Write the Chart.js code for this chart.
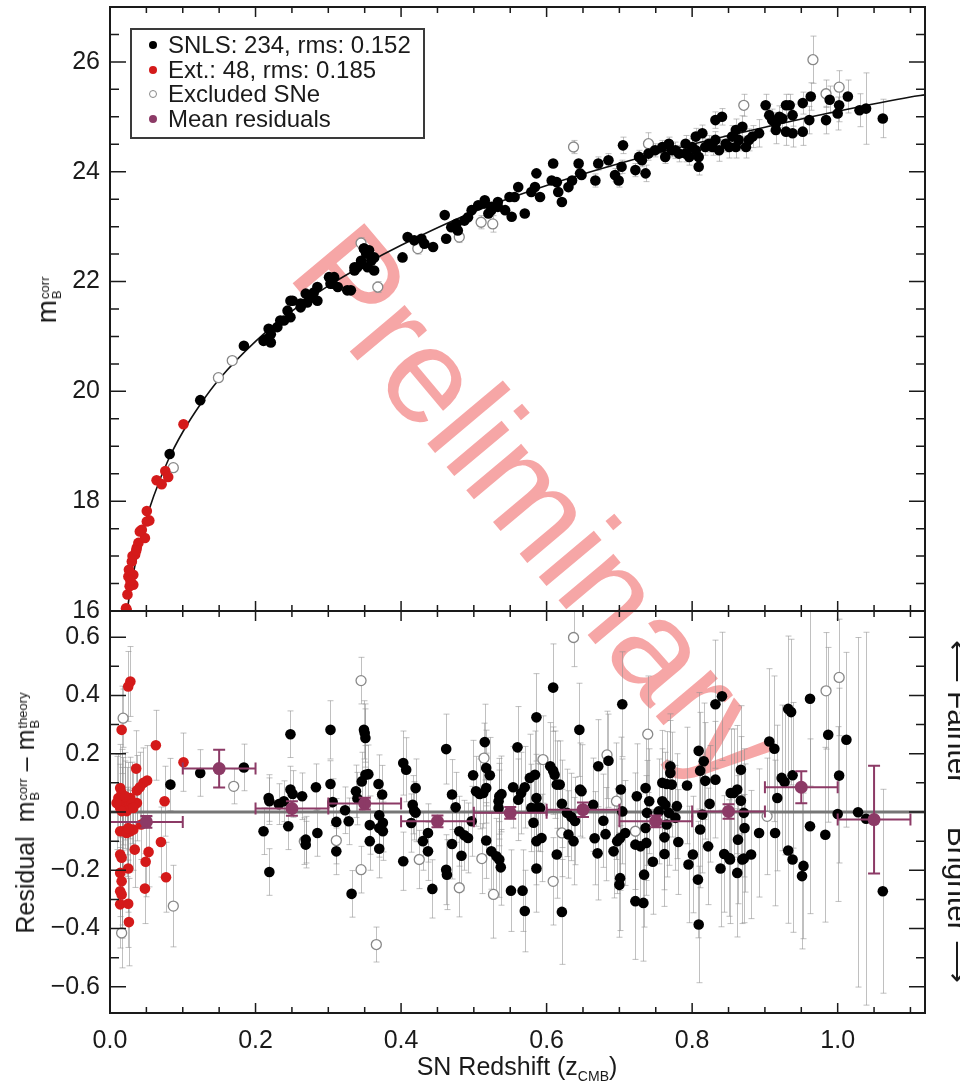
<!DOCTYPE html>
<html><head><meta charset="utf-8">
<script src="https://cdn.jsdelivr.net/npm/chart.js@4/dist/chart.umd.min.js"></script>
<style>
html,body{margin:0;padding:0;background:#fff;}
body{width:960px;height:1082px;position:relative;overflow:hidden;font-family:"Liberation Sans",Arial,Helvetica,sans-serif;color:#1a1a1a;}
canvas{position:absolute;left:0;}
#cTop{top:0;}
#cBot{top:600px;}
.abs{position:absolute;white-space:nowrap;line-height:1;}
.rotL{transform:translate(-50%,-50%) rotate(-90deg);}
.rotR{transform:translate(-50%,-50%) rotate(90deg);}
.ss{display:inline-flex;flex-direction:column;align-items:flex-start;font-size:13px;line-height:12px;vertical-align:7px;margin-left:1px;}
.lg{position:absolute;left:145px;font-size:24px;line-height:24px;white-space:nowrap;}
.dot{display:inline-block;width:8px;height:8px;border-radius:50%;margin-left:4px;margin-right:11px;vertical-align:4px;box-sizing:border-box;}
</style></head>
<body>
<div class="abs" style="left:540px;top:505px;font-size:136px;color:#f6a6a6;transform:translate(-50%,-50%) rotate(50deg);">Preliminary</div>
<canvas id="cTop" width="960" height="625" style="width:960px;height:625px"></canvas>
<canvas id="cBot" width="960" height="482" style="width:960px;height:482px"></canvas>

<div class="abs" style="left:130px;top:28px;width:291px;height:107px;border:2px solid #3a3a3a;"></div>
<div class="lg" style="top:33px"><span class="dot" style="background:#000"></span>SNLS: 234, rms: 0.152</div>
<div class="lg" style="top:58px"><span class="dot" style="background:#d41a1a"></span>Ext.: 48, rms: 0.185</div>
<div class="lg" style="top:82px"><span class="dot" style="background:#fff;border:1.3px solid #888"></span>Excluded SNe</div>
<div class="lg" style="top:107px"><span class="dot" style="background:#8c3a66"></span>Mean residuals</div>

<div class="abs rotL" style="left:48px;top:300px;font-size:28px;">m<span class="ss"><span>corr</span><span>B</span></span></div>
<div class="abs rotL" style="left:27px;top:813px;font-size:25px;">Residual&nbsp;&nbsp;m<span class="ss"><span>corr</span><span>B</span></span> – m<span class="ss"><span>theory</span><span>B</span></span></div>
<div class="abs" style="left:517px;top:1054px;font-size:25px;transform:translateX(-50%);">SN Redshift (z<span style="font-size:14px;vertical-align:-6px;line-height:0">CMB</span>)</div>
<div class="abs rotR" style="left:958px;top:712px;font-size:30px;">⟵ Fainter</div>
<div class="abs rotR" style="left:958px;top:905px;font-size:30px;">Brighter ⟶</div>

<script>
// ---------- tick labels ----------
const xTicks = [0.0, 0.2, 0.4, 0.6, 0.8, 1.0];
const topYTicks = [16, 18, 20, 22, 24, 26];
const botYTicks = [-0.6, -0.4, -0.2, 0.0, 0.2, 0.4, 0.6];

// ---------- model curve (z, m_B) ----------
const curveZ = [0.02,0.025,0.03,0.04,0.05,0.06,0.08,0.1,0.125,0.15,0.2,0.25,0.3,0.35,0.4,0.5,0.6,0.7,0.8,0.9,1.0,1.1,1.12];
const curveM = [15.64,16.13,16.54,17.18,17.68,18.09,18.75,19.26,19.78,20.22,20.91,21.46,21.92,22.31,22.66,23.27,23.75,24.15,24.50,24.81,25.10,25.36,25.40];

// ---------- top panel: [z, m_B corr, err] ----------
const snlsTop = [
[0.082,18.86],[0.124,19.84],[0.184,20.83],[0.211,20.92],[0.218,21.14],[0.221,20.89],
[0.234,21.29],[0.248,21.65],[0.262,21.6],[0.269,21.78],[0.280,21.80],[0.285,21.9],[0.303,21.96],[0.308,22.08],[0.326,21.84],[0.336,22.20],[0.345,22.32],[0.354,22.51],[0.349,22.60],[0.359,22.38],[0.363,22.20],[0.34,22.26],
[0.214,20.95],[0.221,21.04],[0.230,21.17],[0.239,21.29],[0.248,21.35],[0.244,21.47],[0.251,21.65],[0.262,21.53],[0.271,21.62],[0.278,21.71],[0.285,21.65],[0.301,22.08],[0.306,21.96],[0.313,21.90],[0.331,21.84],[0.336,22.26],[0.345,22.38],[0.352,22.51],[0.354,22.26],[0.363,22.44],[0.356,22.57],[0.349,22.60],
[0.402,22.44],[0.409,22.81],[0.418,22.75],[0.428,22.78],[0.432,22.69],[0.444,22.63],
[0.460,23.21],[0.462,22.78],[0.469,22.99],[0.476,23.05],[0.487,23.11],[0.497,23.30],[0.506,23.39],[0.515,23.48],[0.524,23.36],[0.533,23.45],[0.543,23.30],[0.549,23.54],[0.478,22.93],[0.492,23.17],[0.520,23.24],
[0.515,23.42],[0.524,23.30],[0.533,23.36],[0.552,23.18],[0.556,23.54],[0.561,23.72],[0.570,23.24],[0.579,23.63],[0.584,23.72],[0.591,23.54],[0.586,23.97],[0.609,24.15],[0.607,23.84],[0.616,23.63],[0.621,23.45],[0.614,23.81],[0.630,23.72],[0.635,23.84],[0.646,23.97],[0.644,24.15],[0.648,23.94],
[0.667,23.84,0.12],[0.671,24.15,0.12],[0.685,24.21,0.12],[0.694,23.94,0.12],[0.699,23.84,0.12],[0.703,24.09,0.12],[0.705,24.48,0.15],[0.722,24.03,0.12],[0.727,24.27,0.12],[0.731,24.21,0.12],[0.740,24.33,0.12],[0.736,23.97,0.15],[0.749,24.39,0.12],[0.759,24.45,0.12],[0.763,24.27,0.12],[0.768,24.51,0.12],[0.772,24.39,0.12],[0.782,24.33,0.15],[0.791,24.51,0.15],[0.800,24.45,0.15],[0.805,24.64,0.15],[0.809,24.27,0.15],[0.814,24.70,0.15],[0.809,24.09,0.15],[0.823,24.51,0.15],[0.832,24.58,0.15],[0.832,24.94,0.15],[0.841,25.00,0.15],[0.837,24.39,0.2],[0.846,24.51,0.15],
[0.855,24.64,0.2],[0.860,24.76,0.2],[0.864,24.58,0.2],[0.869,24.82,0.2],[0.874,24.45,0.2],[0.878,24.58,0.2],[0.883,24.64,0.2],[0.892,24.70,0.25],[0.901,25.21,0.2],[0.906,25.03,0.2],[0.910,24.94,0.2],[0.915,24.76,0.25],[0.920,25.00,0.2],[0.929,25.21,0.2],[0.934,25.21,0.2],[0.929,24.73,0.25],[0.938,24.70,0.25],[0.952,24.73,0.25],[0.952,25.25,0.2],[0.961,24.94,0.25],[0.963,25.37,0.25],[0.984,24.94,0.25],[0.989,25.31,0.25],[1.000,25.06,0.3],[1.002,25.21,0.3],[1.014,25.37,0.3],[1.030,25.12,0.3],[1.039,25.15,0.65],[1.062,24.97,0.35],[0.938,25.03,0.2],[0.915,24.88,0.2],[0.924,24.97,0.2],
[0.791,24.33,0.15],[0.796,24.27,0.15],[0.777,24.39,0.15],[0.805,24.39,0.15],[0.818,24.45,0.15],[0.828,24.45,0.15],[0.851,24.45,0.2],[0.860,24.45,0.2]
];
const extTop = [
[0.023,16.02],[0.0253,16.63],[0.030,16.90],[0.032,16.66],[0.032,16.48],[0.0345,17.03],[0.0368,17.15],[0.039,17.24],[0.0437,17.48],[0.048,17.33],[0.0506,17.63],[0.0506,17.82],[0.054,17.65],[0.064,18.38],[0.071,18.31],[0.076,18.55],[0.080,18.44],[0.101,19.40],
[0.022,16.05],[0.024,16.3],[0.027,16.45],[0.026,16.75],[0.028,16.55],[0.031,17.0],[0.036,17.1],[0.041,17.45]
];
const exclTop = [
[0.087,18.61],[0.149,20.25],[0.168,20.56],[0.345,22.70,0.1],[0.368,21.90,0.1],[0.423,22.60,0.1],[0.480,22.81,0.1],[0.51,23.08,0.12],[0.526,23.05,0.15],[0.637,24.45,0.12],[0.740,24.51,0.2],[0.871,25.21,0.2],[0.966,26.04,0.43],[1.002,25.54,0.3],[0.984,25.42,0.25]
];

// ---------- bottom panel: [z, residual, err] ----------
const snlsRes = [
[0.083,0.094,0.09],[0.124,0.134,0.08],[0.184,0.153,0.08],
[0.248,0.267,0.08],[0.218,0.048,0.08],[0.219,0.037,0.08],[0.232,0.027,0.07],[0.239,0.037,0.07],[0.248,0.077,0.08],[0.251,0.062,0.08],[0.264,0.054,0.08],[0.283,0.085,0.08],[0.211,-0.066,0.08],[0.245,-0.049,0.08],[0.269,-0.095,0.08],[0.269,-0.112,0.08],[0.285,-0.072,0.08],[0.219,-0.206,0.08],
[0.303,0.282,0.1],[0.303,0.096,0.08],[0.306,0.034,0.08],[0.311,-0.034,0.08],[0.311,-0.135,0.08],[0.323,0.006,0.08],[0.328,-0.032,0.08],[0.332,-0.281,0.08],[0.338,0.071,0.09],[0.340,0.046,0.09],[0.349,0.282,0.1],[0.350,0.271,0.1],[0.351,0.254,0.1],[0.351,0.128,0.1],[0.355,0.130,0.1],[0.346,0.105,0.1],[0.357,-0.045,0.1],[0.357,-0.10,0.1],[0.369,0.096,0.1],[0.374,0.06,0.1],[0.370,-0.011,0.1],[0.375,-0.037,0.1],[0.375,-0.066,0.1],[0.370,-0.055,0.1],[0.370,-0.126,0.1],
[0.403,0.168,0.11],[0.407,0.145,0.11],[0.403,-0.169,0.1],[0.420,0.082,0.1],[0.416,0.025,0.1],[0.418,0.004,0.1],[0.420,-0.002,0.1],[0.414,-0.038,0.1],[0.430,-0.10,0.1],[0.437,-0.072,0.1],[0.437,-0.135,0.1],[0.443,-0.264,0.1],[0.462,0.216,0.12],[0.462,-0.198,0.12],[0.463,-0.215,0.12],[0.470,0.06,0.12],[0.475,0.016,0.12],[0.470,-0.11,0.12],[0.480,-0.066,0.12],[0.487,-0.08,0.12],[0.492,-0.089,0.12],[0.483,-0.15,0.12],[0.497,-0.032,0.12],
[0.499,0.126,0.12],[0.503,0.071,0.12],[0.508,0.062,0.12],[0.513,0.065,0.12],[0.517,0.082,0.12],[0.522,0.126,0.13],[0.517,0.151,0.13],[0.515,0.24,0.13],[0.517,-0.098,0.13],[0.524,-0.135,0.13],[0.531,-0.152,0.13],[0.535,-0.163,0.13],[0.537,-0.19,0.13],[0.534,0.037,0.13],[0.535,0.054,0.13],[0.538,0.062,0.13],[0.534,0.014,0.13],
[0.551,-0.27,0.14],[0.567,-0.27,0.14],[0.570,-0.34,0.14],[0.560,0.222,0.14],[0.554,0.085,0.14],[0.561,0.042,0.14],[0.565,0.065,0.14],[0.570,0.085,0.14],
[0.586,0.325,0.15],[0.584,0.128,0.15],[0.577,0.117,0.15],[0.586,0.048,0.15],[0.579,0.014,0.15],[0.588,0.016,0.15],[0.582,-0.037,0.15],[0.586,-0.10,0.15],[0.593,-0.089,0.15],[0.586,-0.194,0.15],[0.591,0.014,0.15],
[0.609,0.427,0.15],[0.605,0.157,0.15],[0.609,0.142,0.15],[0.611,0.128,0.15],[0.614,0.094,0.15],[0.618,0.094,0.15],[0.621,0.028,0.15],[0.628,-0.003,0.15],[0.634,-0.017,0.15],[0.639,-0.031,0.15],[0.630,-0.077,0.15],[0.637,-0.10,0.15],[0.614,-0.146,0.15],[0.621,-0.343,0.18],
[0.645,0.282,0.16],[0.646,0.077,0.16],[0.648,0.071,0.16],[0.664,0.025,0.16],[0.666,-0.09,0.16],[0.670,-0.142,0.16],[0.671,0.157,0.16],[0.685,0.176,0.16],[0.678,-0.03,0.16],[0.681,-0.076,0.16],[0.692,-0.135,0.16],
[0.704,0.37,0.18],[0.702,0.077,0.18],[0.704,0.002,0.18],[0.701,-0.089,0.18],[0.697,-0.10,0.18],[0.708,-0.072,0.18],[0.701,-0.227,0.18],[0.700,-0.250,0.18],[0.722,-0.306,0.2],[0.733,-0.312,0.2],
[0.724,0.054,0.18],[0.736,0.082,0.18],[0.741,0.037,0.18],[0.738,-0.003,0.18],[0.736,-0.055,0.18],[0.722,-0.112,0.18],[0.729,-0.118,0.18],[0.737,-0.106,0.18],[0.734,-0.215,0.18],[0.746,-0.171,0.18],
[0.759,0.100,0.18],[0.765,0.096,0.18],[0.772,0.094,0.18],[0.770,0.134,0.18],[0.770,0.157,0.18],[0.759,0.037,0.18],[0.763,0.025,0.18],[0.754,0.002,0.18],[0.768,-0.003,0.18],[0.777,-0.020,0.18],[0.765,-0.043,0.18],[0.762,-0.087,0.18],[0.762,-0.144,0.18],[0.781,-0.103,0.18],[0.779,0.020,0.18],[0.793,0.091,0.2],[0.795,-0.180,0.2],[0.801,-0.146,0.2],[0.808,-0.232,0.2],[0.809,-0.386,0.2],[0.811,-0.060,0.2],[0.814,-0.009,0.2],[0.809,0.210,0.2],[0.816,0.174,0.2],[0.811,0.142,0.2],[0.818,0.107,0.2],[0.832,0.111,0.2],[0.824,0.028,0.2],[0.822,-0.118,0.2],[0.839,-0.194,0.2],[0.844,-0.144,0.2],[0.851,-0.158,0.2],[0.832,0.37,0.22],[0.841,0.397,0.22],
[0.867,0.145,0.22],[0.857,0.065,0.22],[0.862,0.077,0.22],[0.867,0.039,0.22],[0.853,0.065,0.22],[0.871,-0.003,0.22],[0.872,-0.055,0.22],[0.863,-0.095,0.22],[0.852,-0.163,0.22],[0.869,-0.163,0.22],[0.871,-0.16,0.22],[0.881,-0.146,0.22],[0.862,-0.209,0.22],[0.892,-0.072,0.22],[0.914,-0.072,0.25],
[0.906,0.242,0.25],[0.913,0.217,0.25],[0.932,0.354,0.25],[0.936,0.343,0.25],[0.923,0.117,0.25],[0.927,0.103,0.25],[0.938,0.126,0.25],[0.917,0.048,0.25],[0.932,-0.132,0.25],[0.938,-0.163,0.25],[0.953,-0.185,0.25],[0.951,-0.22,0.25],[0.962,0.389,0.3],[0.962,-0.049,0.3],[0.983,-0.078,0.3],[0.987,0.265,0.3],[1.012,0.248,0.3],[1.002,0.125,0.3],[1.0,-0.007,0.3],[1.028,-0.001,0.6],[1.039,-0.023,0.64],[1.062,-0.272,0.35]
];
const extRes = [
[0.028,0.448,0.12],[0.025,0.431,0.12],[0.016,0.282,0.15],[0.063,0.229,0.12],[0.036,0.149,0.13],[0.101,0.171,0.1],
[0.051,0.108,0.12],[0.046,0.100,0.12],[0.041,0.085,0.12],[0.037,0.074,0.12],[0.075,0.037,0.12],
[0.014,0.082,0.15],[0.016,0.065,0.15],[0.0115,0.048,0.15],[0.018,0.037,0.15],[0.021,0.025,0.15],[0.025,0.020,0.15],[0.030,0.031,0.14],[0.037,0.031,0.13],[0.014,0.014,0.15],[0.023,0.003,0.15],[0.016,0.003,0.15],[0.028,0.048,0.14],[0.032,0.014,0.14],[0.009,0.031,0.16],[0.021,0.054,0.15],
[0.014,-0.066,0.15],[0.018,-0.066,0.15],[0.023,-0.072,0.15],[0.028,-0.066,0.14],[0.032,-0.06,0.14],[0.025,-0.055,0.14],
[0.043,-0.043,0.12],[0.070,-0.103,0.12],[0.034,-0.129,0.13],[0.053,-0.137,0.12],[0.049,-0.171,0.12],[0.014,-0.146,0.15],[0.016,-0.157,0.15],
[0.025,-0.194,0.15],[0.014,-0.209,0.15],[0.016,-0.238,0.15],[0.014,-0.272,0.15],[0.016,-0.283,0.15],[0.077,-0.224,0.12],[0.048,-0.263,0.12],[0.014,-0.317,0.15],[0.025,-0.315,0.15],[0.026,-0.378,0.15]
];
const exclRes = [
[0.018,0.322,0.1],[0.016,-0.415,0.12],[0.087,-0.323,0.14],[0.170,0.088,0.06],[0.267,-0.10,0.08],[0.311,-0.098,0.08],[0.345,0.451,0.08],[0.345,-0.198,0.08],[0.366,-0.455,0.06],[0.425,-0.163,0.1],[0.480,-0.26,0.1],[0.514,0.185,0.12],[0.511,-0.16,0.12],[0.527,-0.283,0.15],[0.595,0.18,0.15],[0.637,0.599,0.1],[0.609,-0.238,0.15],[0.621,-0.072,0.15],[0.683,0.196,0.15],[0.696,0.037,0.2],[0.739,0.267,0.2],[0.722,-0.066,0.2],[0.903,-0.015,0.2],[0.984,0.416,0.2],[1.002,0.462,0.2]
];

// ---------- mean residuals per redshift bin ----------
const meanZ    = [0.05, 0.15, 0.25, 0.35, 0.45, 0.55, 0.65, 0.75, 0.85, 0.95, 1.05];
const meanZErr = [0.05, 0.05, 0.05, 0.05, 0.05, 0.05, 0.05, 0.05, 0.05, 0.05, 0.05];
const meanRes  = [-0.034, 0.149, 0.012, 0.029, -0.032, -0.003, 0.008, -0.032, 0.002, 0.085, -0.026];
const meanErr  = [0.02, 0.065, 0.025, 0.02, 0.02, 0.02, 0.025, 0.02, 0.025, 0.055, 0.185];

// ---------- rendering ----------
const FONT = '"Liberation Sans", Arial, Helvetica, sans-serif';
Chart.defaults.font.family = FONT;
const BLACK = '#000000', RED = '#d41a1a', GREY = '#888888', PURPLE = '#8c3a66';
const pts = arr => arr.map(a => ({x: a[0], y: a[1], e: a[2] || 0}));

function noPad(s) { s.paddingTop = 0; s.paddingBottom = 0; s.paddingLeft = 0; s.paddingRight = 0; }

function makeFrame(cfg) {
  return {
    id: 'frame' + cfg.name,
    beforeDatasetsDraw(chart) {
      const {ctx, chartArea: a} = chart;
      const xs = chart.scales.x, ys = chart.scales.y;
      ctx.save();
      ctx.beginPath(); ctx.rect(a.left, a.top, a.right - a.left, a.bottom - a.top); ctx.clip();
      chart.data.datasets.forEach(ds => {
        if (!ds.errColor) return;
        ctx.strokeStyle = ds.errColor; ctx.lineWidth = 1;
        ds.data.forEach(p => {
          if (!p.e) return;
          const x = Math.round(xs.getPixelForValue(p.x)) + 0.5;
          const y1 = ys.getPixelForValue(p.y - p.e), y2 = ys.getPixelForValue(p.y + p.e);
          ctx.beginPath();
          ctx.moveTo(x, y1); ctx.lineTo(x, y2);
          ctx.moveTo(x - 3, y1); ctx.lineTo(x + 3, y1);
          ctx.moveTo(x - 3, y2); ctx.lineTo(x + 3, y2);
          ctx.stroke();
        });
      });
      if (cfg.zero) {
        const y0 = ys.getPixelForValue(0);
        ctx.strokeStyle = '#767676'; ctx.lineWidth = 3;
        ctx.beginPath(); ctx.moveTo(a.left, y0); ctx.lineTo(a.right, y0); ctx.stroke();
      }
      ctx.restore();
    },
    afterDatasetsDraw(chart) {
      const {ctx, chartArea: a} = chart;
      const xs = chart.scales.x, ys = chart.scales.y;
      chart.data.datasets.forEach(ds => {
        if (!ds.meanBars) return;
        ctx.save(); ctx.strokeStyle = ds.backgroundColor; ctx.lineWidth = 2;
        ds.data.forEach(p => {
          const x = xs.getPixelForValue(p.x), y = ys.getPixelForValue(p.y);
          const x1 = xs.getPixelForValue(p.x - p.xe), x2 = xs.getPixelForValue(p.x + p.xe);
          const y1 = ys.getPixelForValue(p.y - p.e), y2 = ys.getPixelForValue(p.y + p.e);
          ctx.beginPath();
          ctx.moveTo(x1, y); ctx.lineTo(x2, y);
          ctx.moveTo(x1, y - 6); ctx.lineTo(x1, y + 6);
          ctx.moveTo(x2, y - 6); ctx.lineTo(x2, y + 6);
          ctx.moveTo(x, y1); ctx.lineTo(x, y2);
          ctx.moveTo(x - 6, y1); ctx.lineTo(x + 6, y1);
          ctx.moveTo(x - 6, y2); ctx.lineTo(x + 6, y2);
          ctx.stroke();
        });
        ctx.restore();
      });
      ctx.save();
      ctx.strokeStyle = '#1a1a1a';
      ctx.lineWidth = 1.5;
      ctx.beginPath();
      for (let i = 0; i * 0.05 <= xs.max + 1e-9; i++) {
        const v = i * 0.05, major = (i % 4 === 0), L = major ? 10 : 6;
        const x = xs.getPixelForValue(v);
        ctx.moveTo(x, a.bottom); ctx.lineTo(x, a.bottom - L);
        ctx.moveTo(x, a.top); ctx.lineTo(x, a.top + L);
      }
      const n0 = Math.ceil(ys.min / cfg.yStep - 1e-6), n1 = Math.floor(ys.max / cfg.yStep + 1e-6);
      for (let i = n0; i <= n1; i++) {
        const v = i * cfg.yStep, major = (((i % cfg.yEvery) + cfg.yEvery) % cfg.yEvery === 0), L = major ? 16 : 9;
        const y = ys.getPixelForValue(v);
        ctx.moveTo(a.left, y); ctx.lineTo(a.left + L, y);
        ctx.moveTo(a.right, y); ctx.lineTo(a.right - L, y);
      }
      ctx.stroke();
      ctx.lineWidth = 2;
      ctx.strokeRect(a.left, a.top, a.right - a.left, a.bottom - a.top);
      ctx.restore();
    }
  };
}

const tickFont = {family: FONT, size: 25};

new Chart(document.getElementById('cTop'), {
  type: 'scatter',
  data: {datasets: [
    {label: 'SNLS', data: pts(snlsTop), backgroundColor: BLACK, borderWidth: 0, pointRadius: 5.3, order: 1, clip: 0, errColor: 'rgba(150,150,150,0.6)'},
    {label: 'Ext.', data: pts(extTop), backgroundColor: RED, borderWidth: 0, pointRadius: 5.3, order: 2, clip: 0, errColor: 'rgba(150,150,150,0.6)'},
    {label: 'Excluded SNe', data: pts(exclTop), backgroundColor: '#ffffff', borderColor: GREY, borderWidth: 1.3, pointRadius: 5, order: 3, clip: 0, errColor: 'rgba(150,150,150,0.6)'},
    {type: 'line', label: 'model', data: curveZ.map((z, i) => ({x: z, y: curveM[i]})), borderColor: '#111', borderWidth: 1.6, pointRadius: 0, fill: false, cubicInterpolationMode: 'monotone', order: 4, clip: 0}
  ]},
  options: {
    responsive: false, animation: false, events: [], devicePixelRatio: 1,
    layout: {padding: {top: 7, right: 35, bottom: 14, left: 0}},
    plugins: {legend: {display: false}, tooltip: {enabled: false}},
    scales: {
      x: {type: 'linear', min: 0, max: 1.12, display: false},
      y: {type: 'linear', min: 16, max: 27,
          afterFit(s) { s.width = 110; noPad(s); },
          afterBuildTicks(s) { s.ticks = topYTicks.map(v => ({value: v})); },
          grid: {display: false, drawTicks: false}, border: {display: false},
          ticks: {padding: 10, color: '#1a1a1a', font: tickFont, autoSkip: false, callback: v => String(v)}}
    }
  },
  plugins: [makeFrame({name: 'top', yStep: 0.5, yEvery: 4, zero: false})]
});

new Chart(document.getElementById('cBot'), {
  type: 'scatter',
  data: {datasets: [
    {label: 'Mean residuals', data: meanZ.map((z, i) => ({x: z, y: meanRes[i], e: meanErr[i], xe: meanZErr[i]})), backgroundColor: PURPLE, borderWidth: 0, pointRadius: 6.5, order: 0, clip: 0, meanBars: true},
    {label: 'SNLS', data: pts(snlsRes), backgroundColor: BLACK, borderWidth: 0, pointRadius: 5.3, order: 1, clip: 0, errColor: 'rgba(140,140,140,0.55)'},
    {label: 'Ext.', data: pts(extRes), backgroundColor: RED, borderWidth: 0, pointRadius: 5.3, order: 2, clip: 0, errColor: 'rgba(140,140,140,0.55)'},
    {label: 'Excluded SNe', data: pts(exclRes), backgroundColor: '#ffffff', borderColor: GREY, borderWidth: 1.3, pointRadius: 5, order: 3, clip: 0, errColor: 'rgba(140,140,140,0.55)'}
  ]},
  options: {
    responsive: false, animation: false, events: [], devicePixelRatio: 1,
    layout: {padding: {top: 11, right: 35, bottom: 0, left: 0}},
    plugins: {legend: {display: false}, tooltip: {enabled: false}},
    scales: {
      x: {type: 'linear', min: 0, max: 1.12,
          afterFit(s) { s.height = 69; noPad(s); },
          afterBuildTicks(s) { s.ticks = xTicks.map(v => ({value: v})); },
          grid: {display: false, drawTicks: false}, border: {display: false},
          ticks: {padding: 13, color: '#1a1a1a', font: tickFont, autoSkip: false, maxRotation: 0, callback: v => v.toFixed(1)}},
      y: {type: 'linear', min: -0.69, max: 0.69,
          afterFit(s) { s.width = 110; noPad(s); },
          afterBuildTicks(s) { s.ticks = botYTicks.map(v => ({value: v})); },
          grid: {display: false, drawTicks: false}, border: {display: false},
          ticks: {padding: 10, color: '#1a1a1a', font: tickFont, autoSkip: false, callback: v => (v < -1e-9 ? '\u2212' : '') + Math.abs(v).toFixed(1)}}
    }
  },
  plugins: [makeFrame({name: 'bot', yStep: 0.1, yEvery: 2, zero: true})]
});
</script>
</body></html>
